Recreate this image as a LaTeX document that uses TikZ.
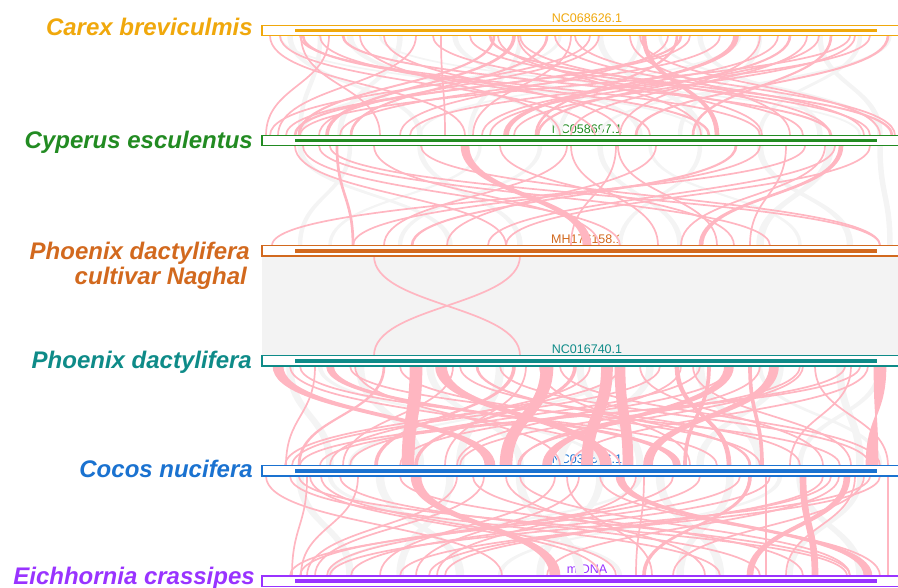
\documentclass[tikz,border=0pt]{standalone}
\usepackage{fontspec}
\setmainfont{Liberation Sans}
\definecolor{carexc}{HTML}{F0A80C}
\definecolor{cyperc}{HTML}{228B22}
\definecolor{naghc}{HTML}{D2691E}
\definecolor{phoec}{HTML}{0E8B88}
\definecolor{cococ}{HTML}{1A72D0}
\definecolor{eichc}{HTML}{9933FF}
\definecolor{linkpink}{HTML}{FFB6C1}
\definecolor{linkgray}{HTML}{F4F4F4}
\definecolor{bandgray}{HTML}{F3F3F3}

% ribbons between two tracks: #1 style, #2 top y, #3 bottom y, #4 list a/b/wtop/wbottom
\newcommand\drawlinks[4]{%
  \pgfmathsetmacro\ymid{(#2+#3)/2}%
  \foreach \a/\b/\w/\v in {#4}{%
    \path[#1] ({\a-\w/2},#2) .. controls ({\a-\w/2},\ymid) and ({\b-\v/2},\ymid) .. ({\b-\v/2},#3)
      -- ({\b+\v/2},#3) .. controls ({\b+\v/2},\ymid) and ({\a+\w/2},\ymid) .. ({\a+\w/2},#2) -- cycle;
  }%
}

\tikzset{
  pinklink/.style={fill=linkpink, draw=linkpink, line width=1.7pt, line join=round},
  graylink/.style={fill=linkgray, draw=linkgray, line width=1.5pt, line join=round},
  trackframe/.style={draw=#1, fill=white, line width=1.4pt},
  trackbar/.style={fill=#1},
  seqid/.style={text=#1, anchor=base, inner sep=0pt, font=\fontsize{12.5}{14}\selectfont},
  species/.style={text=#1, anchor=base east, inner sep=0pt, align=right,
    font=\fontsize{24}{26}\selectfont\bfseries\itshape},
}

\begin{document}
\begin{tikzpicture}[x=1pt,y=-1pt]
\useasboundingbox (0,0) rectangle (898,588);
\clip (0,0) rectangle (898,588);

% shaded band between the two date palm tracks
\fill[bandgray] (262,255.9) rectangle (898,355.6);

% sequence identifiers
\node[seqid=carexc] (idcarex) at (587,22.8) {NC068626.1};
\node[seqid=cyperc] (idcyper) at (587,133.4) {NC058697.1};
\node[seqid=naghc]  (idnagh)  at (587,243.4) {MH176158.1};
\node[seqid=phoec]  (idphoe)  at (587,353.4) {NC016740.1};
\node[seqid=cococ]  (idcoco)  at (587,463.6) {NC031696.1};
\node[seqid=eichc]  (ideich)  at (587,573.4) {mtDNA};

% background links
\drawlinks{graylink}{35.7}{135.4}{290/420/4/4, 320/300/3/3, 350/560/5/5, 400/340/4/4, 455/640/4/4, 520/470/3/3, 600/700/5/5, 640/560/3/3, 700/820/4/4, 760/680/3/3, 820/880/4/4, 860/760/3/3, 890/600/2/2, 280/700/1/1, 560/300/2/2, 740/420/1/1, 380/860/1/1, 660/880/2/2}
\drawlinks{graylink}{145.8}{245.5}{300/450/4/4, 420/520/4/4, 540/400/3/3, 600/680/4/4, 700/620/3/3, 760/850/5/5, 830/760/6/6, 880/890/4/4, 350/300/3/3, 650/800/2/2, 480/330/2/2}
\drawlinks{graylink}{366}{465.7}{290/330/6/6, 360/420/7/7, 430/520/6/6, 500/460/7/7, 580/640/6/6, 650/560/6/6, 700/760/7/7, 780/700/6/6, 840/860/6/6, 880/800/4/4, 320/600/3/3, 620/350/3/3, 760/880/3/3}
\drawlinks{graylink}{476.1}{575.8}{300/350/6/6, 380/460/7/7, 450/400/6/6, 520/580/7/7, 600/540/6/6, 660/720/7/7, 730/680/6/6, 800/860/6/6, 860/790/4/4, 330/620/3/3, 640/330/3/3, 780/500/3/3}

% syntenic links
\drawlinks{pinklink}{35.7}{135.4}{270/465/0/0, 280/595/0/0, 301/380/0/0, 303/709/1/1, 329/266/0/0, 343/831/1/1, 384/620/0/0, 416/278/0/0, 433/803/0/0, 441/445/0/0, 490/892/1/1, 494/299/1/1, 498/762/0/0, 514/327/2/2, 518/701/0/0, 547/351/1/1, 555/864/0/0, 571/473/0/0, 599/319/0/0, 644/717/3/3, 668/400/0/0, 677/536/1/1, 681/295/1/1, 736/506/4/4, 778/482/0/0, 790/538/1/1, 807/571/0/0, 819/490/0/0, 831/693/1/1, 855/514/0/0, 888/636/1/1, 630/790/0/0, 760/620/0/0, 470/870/0/0, 360/560/0/0, 575/895/0/0, 690/286/0/0, 300/760/0/0, 320/650/0/0, 850/300/0/0, 870/410/0/0, 720/340/0/0, 520/830/0/0, 590/270/0/0, 640/880/0/0}
\drawlinks{pinklink}{145.8}{245.5}{295/506/0/0, 319/770/0/0, 337/353/1/1, 374/599/0/0, 421/880/0/0, 465/587/7/7, 500/734/0/0, 567/384/0/0, 571/658/0/0, 616/571/0/0, 618/717/0/0, 656/447/0/0, 736/412/1/1, 786/750/0/0, 805/272/0/0, 825/681/0/0, 835/488/0/0, 841/701/3/3, 303/620/0/0, 330/880/0/0, 760/353/0/0, 870/506/0/0}
\drawlinks{pinklink}{255.9}{355.6}{374/520/0/0, 520/374/0/0}
\drawlinks{pinklink}{366}{465.7}{278/490/9/9, 315/286/0/0, 355/560/0/0, 384/299/1/1, 416/408/11/11, 441/606/10/10, 453/343/0/0, 477/750/1/1, 514/376/2/2, 526/445/0/0, 547/506/11/11, 575/416/2/2, 607/587/10/10, 620/628/9/9, 640/823/0/0, 677/729/3/3, 681/457/0/0, 693/851/0/0, 709/685/2/2, 729/547/8/8, 750/762/2/2, 774/648/8/8, 803/518/0/0, 815/888/0/0, 851/790/0/0, 868/571/0/0, 880/872/11/-11, 300/717/0/0, 330/677/6/6, 590/330/0/0, 660/292/0/0, 730/400/0/0, 460/800/0/0, 800/460/0/0, 560/880/0/0, 350/840/0/0, 845/320/0/0, 290/620/0/0, 400/760/0/0, 500/870/0/0, 860/300/0/0, 700/350/0/0, 620/285/0/0, 760/520/0/0, 540/690/0/0}
\drawlinks{pinklink}{476.1}{575.8}{266/502/0/0, 299/847/0/0, 307/292/0/0, 321/616/0/0, 358/301/0/0, 416/555/9/9, 457/307/0/0, 473/803/0/0, 484/315/0/0, 506/705/0/0, 555/380/0/0, 567/652/0/0, 579/416/0/0, 620/868/7/7, 636/437/0/0, 644/636/0/0, 673/327/0/0, 750/644/2/2, 766/766/0/0, 770/351/0/0, 803/815/5/5, 823/445/0/0, 831/429/0/0, 839/547/0/0, 847/750/5/5, 855/786/0/0, 864/673/0/0, 888/888/0/0, 340/760/0/0, 700/300/0/0, 600/880/0/0, 400/850/0/0, 290/720/0/0, 310/600/0/0, 870/330/0/0, 880/400/0/0, 520/850/0/0, 740/290/0/0}

% tracks
\draw[trackframe=carexc] (262,25.3) rectangle (905,35.7);
\fill[trackbar=carexc] (295,28.6) rectangle (877,32.4);
\draw[trackframe=cyperc] (262,135.4) rectangle (905,145.8);
\fill[trackbar=cyperc] (295,138.7) rectangle (877,142.5);
\draw[trackframe=naghc] (262,245.5) rectangle (905,255.9);
\fill[trackbar=naghc] (295,248.8) rectangle (877,252.6);
\draw[trackframe=phoec] (262,355.6) rectangle (905,366);
\fill[trackbar=phoec] (295,358.9) rectangle (877,362.7);
\draw[trackframe=cococ] (262,465.7) rectangle (905,476.1);
\fill[trackbar=cococ] (295,469) rectangle (877,472.8);
\draw[trackframe=eichc] (262,575.8) rectangle (905,586.2);
\fill[trackbar=eichc] (295,579.1) rectangle (877,582.9);

% species names
\node[species=carexc] (spcarex) at (253,36) {Carex breviculmis};
\node[species=cyperc] (spcyper) at (253,149) {Cyperus esculentus};
\node[species=naghc]  (spnagh1) at (250,259.3) {Phoenix dactylifera};
\node[species=naghc]  (spnagh2) at (247,285) {cultivar Naghal};
\node[species=phoec]  (spphoe)  at (252,369) {Phoenix dactylifera};
\node[species=cococ]  (spcoco)  at (253,477) {Cocos nucifera};
\node[species=eichc]  (speich)  at (255,584.3) {Eichhornia crassipes};
\end{tikzpicture}
\end{document}
